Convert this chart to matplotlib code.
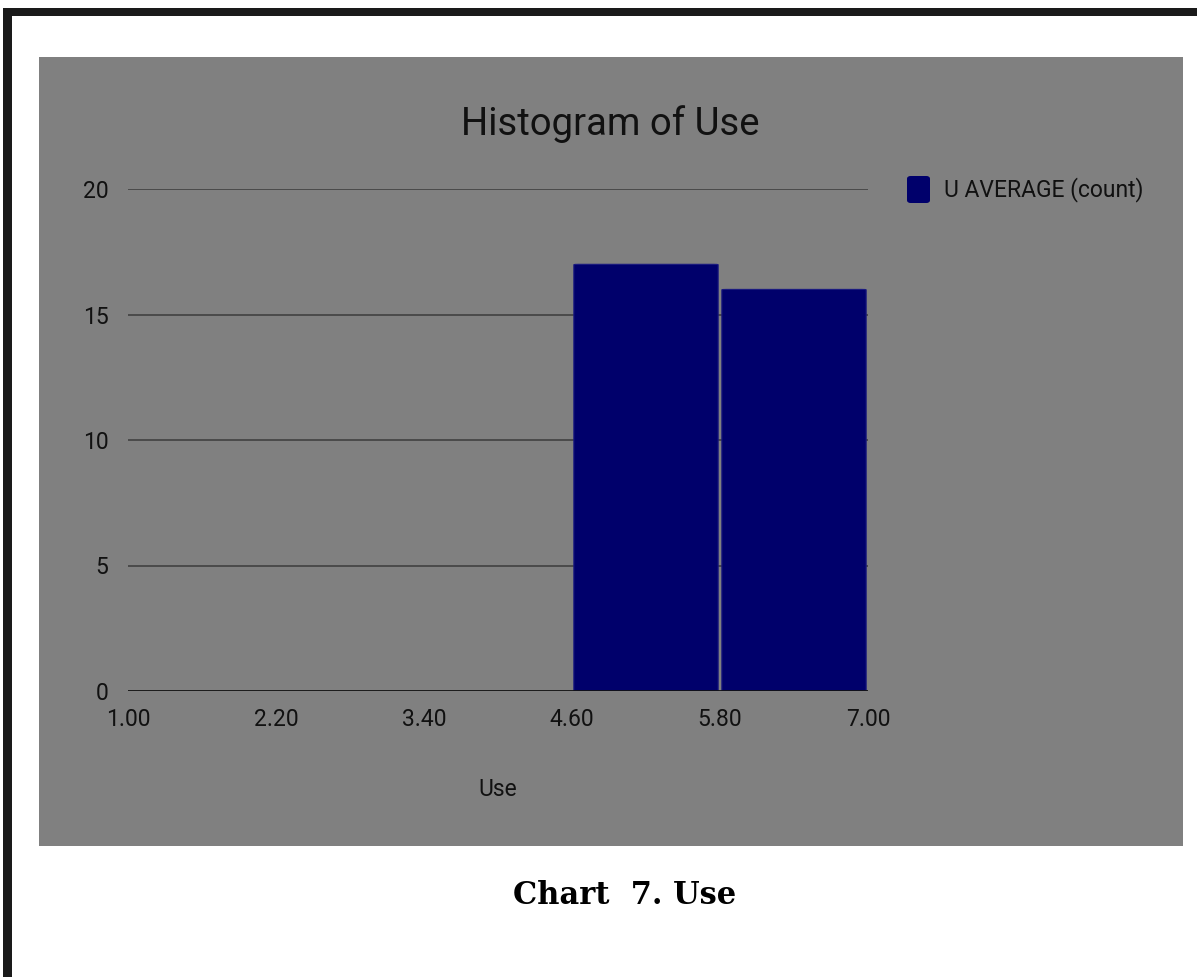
import matplotlib
matplotlib.use("Agg")
import matplotlib.pyplot as plt
from matplotlib.patches import Rectangle, FancyBboxPatch
import numpy as np

# Histogram data
bin_edges = [1.00, 2.20, 3.40, 4.60, 5.80, 7.00]
counts = [0, 0, 0, 17, 16]
x_tick_labels = ["1.00", "2.20", "3.40", "4.60", "5.80", "7.00"]
y_ticks = [0, 5, 10, 15, 20]
series_name = "U AVERAGE (count)"
chart_title = "Histogram of Use"
x_label = "Use"
caption = "Chart  7. Use"

W, H = 1197, 977
fig = plt.figure(figsize=(W / 100, H / 100), dpi=100)
fig.patch.set_facecolor("white")

def fx(px):
    return px / W

def fy(py):
    return 1 - py / H

# Page frame: thick black rule on top and left
fig.patches.append(Rectangle((fx(3), fy(16)), fx(W - 3), 8 / H,
                             transform=fig.transFigure, facecolor="#1a1a1a",
                             edgecolor="none", zorder=-2))
fig.patches.append(Rectangle((fx(3), 0), 9 / W, fy(8),
                             transform=fig.transFigure, facecolor="#1a1a1a",
                             edgecolor="none", zorder=-2))

# Grey chart panel
grey = "#808080"
fig.patches.append(Rectangle((fx(39), fy(846)), fx(1183 - 39), (846 - 57) / H,
                             transform=fig.transFigure, facecolor=grey,
                             edgecolor="none", zorder=-2))

ax = fig.add_axes([fx(128), fy(691), fx(868 - 128), (691 - 189) / H])
ax.set_zorder(1)
ax.set_facecolor("none")
ax.set_xlim(bin_edges[0], bin_edges[-1])
ax.set_ylim(0, 20)

for s in ax.spines.values():
    s.set_visible(False)

# Horizontal gridlines
for yv in y_ticks[1:]:
    ax.axhline(yv, color="#4a4a4a", lw=1.4, zorder=1)
ax.axhline(0, color="#111111", lw=2.0, zorder=3)

bar_color = "#00006b"
lefts = np.array(bin_edges[:-1])
widths = np.diff(bin_edges)
gap = 0.015
for left, w, c in zip(lefts, widths, counts):
    if c <= 0:
        continue
    ax.add_patch(FancyBboxPatch((left + gap, 0), w - 2 * gap, c,
                                boxstyle="round,pad=0,rounding_size=0.04",
                                mutation_aspect=0.35,
                                facecolor=bar_color, edgecolor="#1a1a80",
                                lw=0.8, zorder=2))

font = "Roboto"
txt_color = "#111111"
ax.set_xticks(bin_edges)
ax.set_xticklabels(x_tick_labels, fontsize=16.5, family=font, color=txt_color)
ax.set_yticks(y_ticks)
ax.set_yticklabels([str(v) for v in y_ticks], fontsize=16.5, family=font,
                   color=txt_color)
ax.tick_params(axis="both", length=0)
ax.tick_params(axis="x", pad=12)
ax.tick_params(axis="y", pad=14)

ax.set_xlabel(x_label, fontsize=16.5, family=font, color=txt_color,
              labelpad=34)

fig.text(fx(610), fy(124), chart_title, fontsize=27.5, family=font,
         color=txt_color, ha="center", va="center")

# Legend
fig.patches.append(FancyBboxPatch((fx(907), fy(203)), 23 / W, 27 / H,
                                  boxstyle="round,pad=0,rounding_size=0.003",
                                  transform=fig.transFigure,
                                  facecolor=bar_color, edgecolor="none"))
fig.text(fx(944), fy(190), series_name, fontsize=16.5, family=font,
         color=txt_color, ha="left", va="center")

# Caption under the panel
fig.text(fx(625), fy(895), caption, fontsize=22, family="DejaVu Serif",
         fontweight="bold", color="#000000", ha="center", va="center")

fig.savefig("out.png", dpi=100, facecolor="white")
